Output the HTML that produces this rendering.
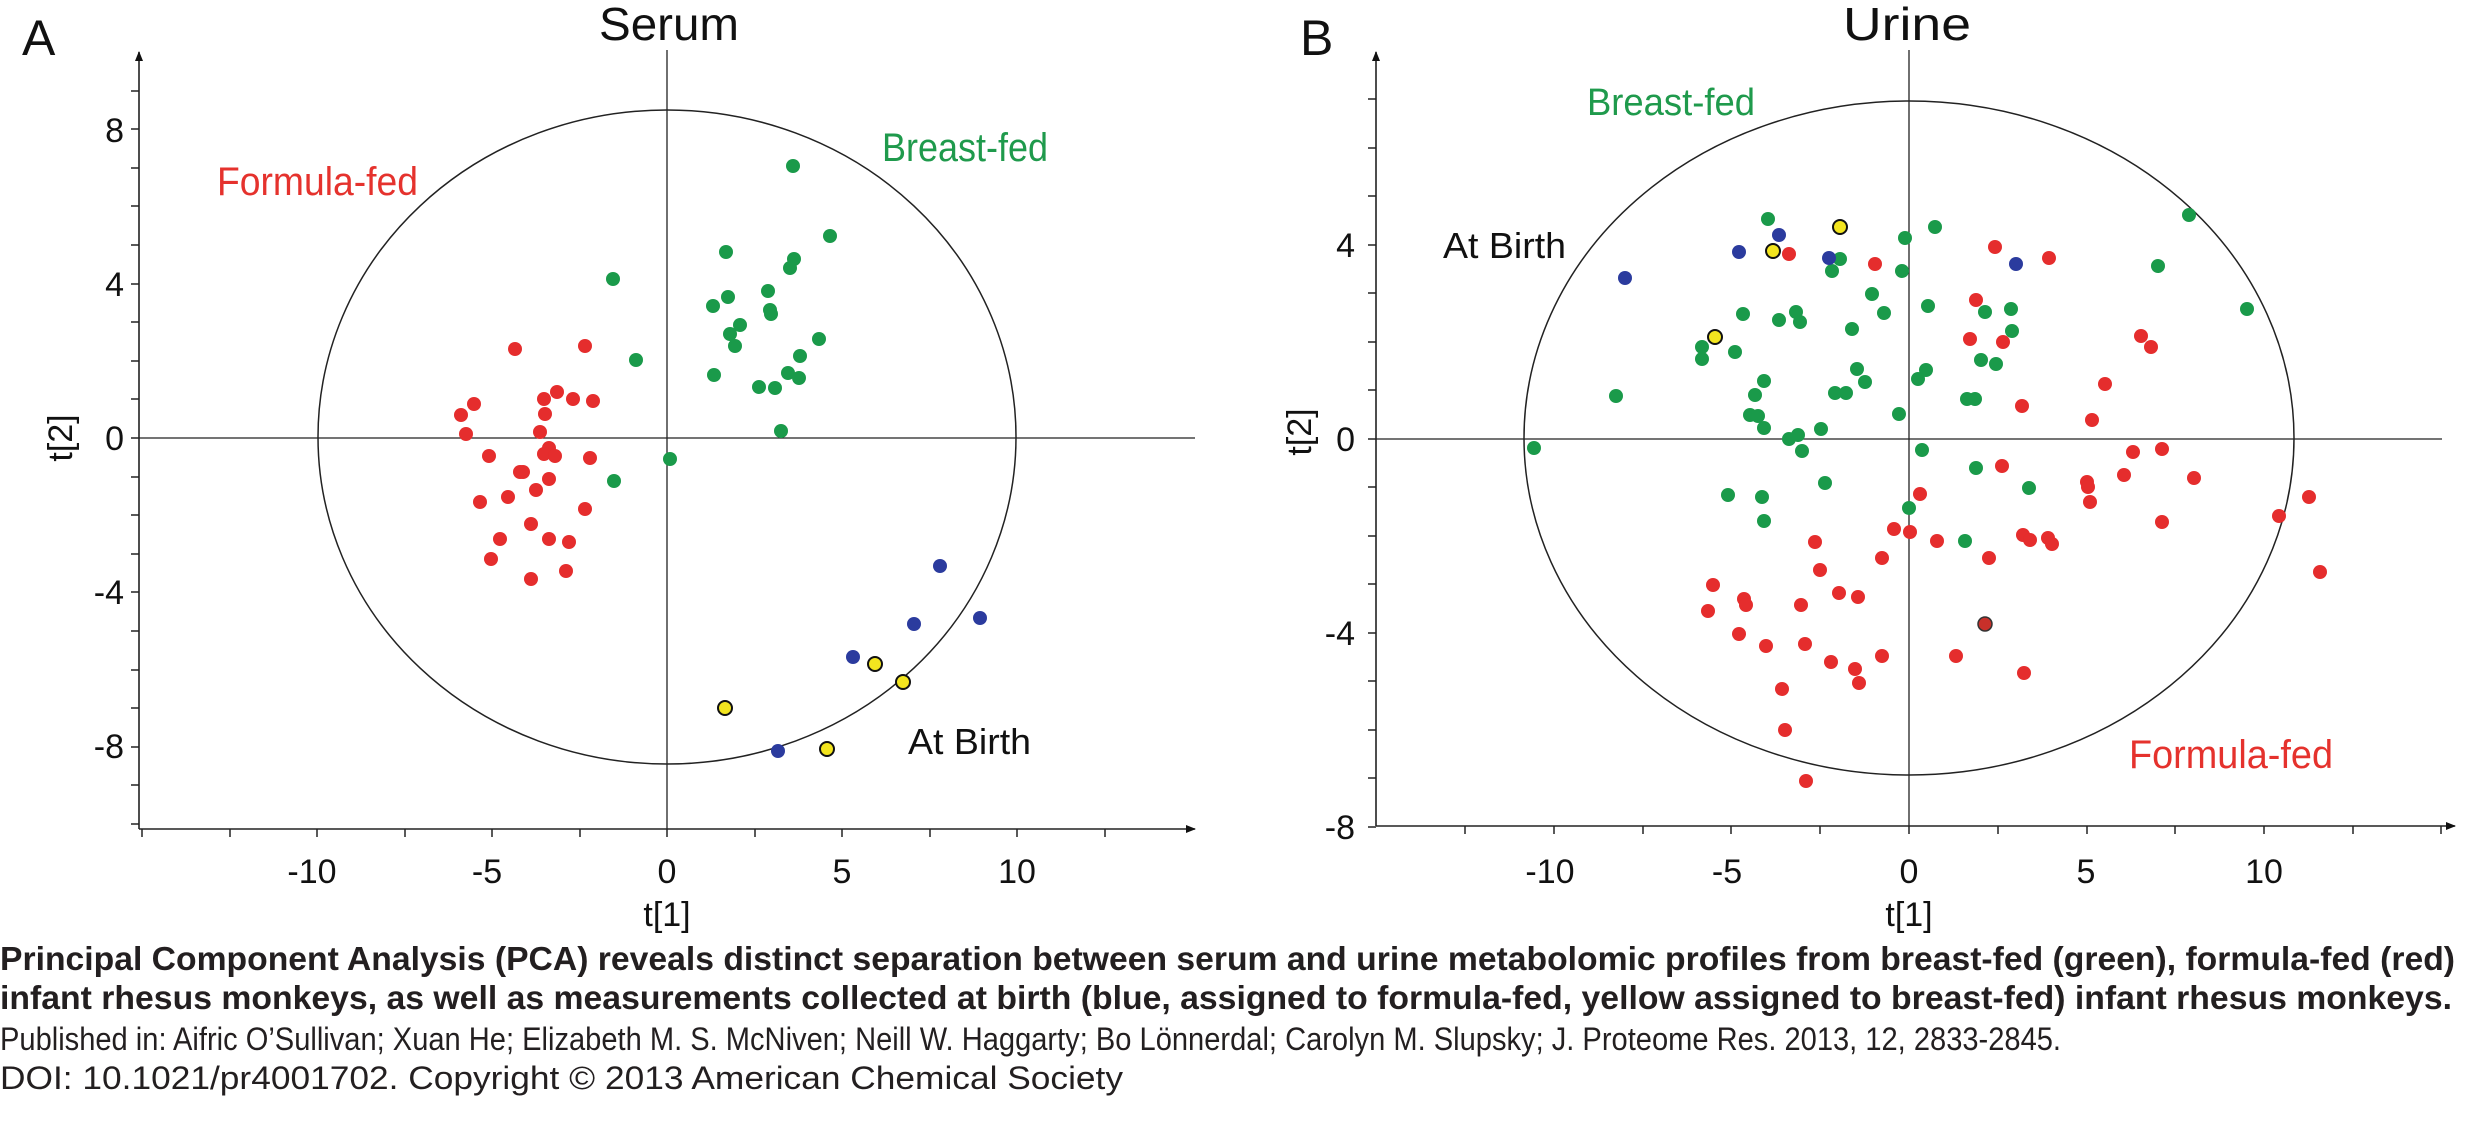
<!DOCTYPE html>
<html><head><meta charset="utf-8"><style>
html,body{margin:0;padding:0;background:#fff;}
svg{display:block;}
text{font-family:"Liberation Sans",sans-serif;}
</style></head><body>
<svg width="2492" height="1138" viewBox="0 0 2492 1138" xmlns="http://www.w3.org/2000/svg">
<defs><marker id="ar" markerWidth="10" markerHeight="10" refX="9" refY="5" orient="auto" markerUnits="userSpaceOnUse"><path d="M0,1 L10,5 L0,9 z" fill="#111"/></marker></defs>
<g stroke="#222" stroke-width="1.6" fill="none">
<line x1="139" y1="829" x2="139" y2="52" marker-end="url(#ar)"/>
<line x1="139" y1="829" x2="1195" y2="829" marker-end="url(#ar)"/>
<line x1="667" y1="50" x2="667" y2="829" stroke-width="1.3"/>
<line x1="139" y1="438" x2="1195" y2="438" stroke-width="1.3"/>
<ellipse cx="667" cy="437" rx="349" ry="327" stroke-width="1.5"/>
<line x1="1376" y1="826" x2="1376" y2="52" marker-end="url(#ar)"/>
<line x1="1376" y1="826" x2="2455" y2="826" marker-end="url(#ar)"/>
<line x1="1909" y1="50" x2="1909" y2="826" stroke-width="1.3"/>
<line x1="1376" y1="439" x2="2442" y2="439" stroke-width="1.3"/>
<ellipse cx="1909" cy="438" rx="385" ry="337" stroke-width="1.5"/>
</g>
<g stroke="#222" stroke-width="1.5">
<line x1="131" y1="824" x2="139" y2="824"/><line x1="131" y1="785" x2="139" y2="785"/><line x1="131" y1="747" x2="139" y2="747"/><line x1="131" y1="708" x2="139" y2="708"/><line x1="131" y1="670" x2="139" y2="670"/><line x1="131" y1="631" x2="139" y2="631"/><line x1="131" y1="592" x2="139" y2="592"/><line x1="131" y1="554" x2="139" y2="554"/><line x1="131" y1="515" x2="139" y2="515"/><line x1="131" y1="477" x2="139" y2="477"/><line x1="131" y1="438" x2="139" y2="438"/><line x1="131" y1="399" x2="139" y2="399"/><line x1="131" y1="361" x2="139" y2="361"/><line x1="131" y1="322" x2="139" y2="322"/><line x1="131" y1="284" x2="139" y2="284"/><line x1="131" y1="245" x2="139" y2="245"/><line x1="131" y1="206" x2="139" y2="206"/><line x1="131" y1="168" x2="139" y2="168"/><line x1="131" y1="129" x2="139" y2="129"/><line x1="131" y1="91" x2="139" y2="91"/>
<line x1="1368" y1="827" x2="1376" y2="827"/><line x1="1368" y1="778" x2="1376" y2="778"/><line x1="1368" y1="730" x2="1376" y2="730"/><line x1="1368" y1="681" x2="1376" y2="681"/><line x1="1368" y1="633" x2="1376" y2="633"/><line x1="1368" y1="584" x2="1376" y2="584"/><line x1="1368" y1="536" x2="1376" y2="536"/><line x1="1368" y1="487" x2="1376" y2="487"/><line x1="1368" y1="439" x2="1376" y2="439"/><line x1="1368" y1="390" x2="1376" y2="390"/><line x1="1368" y1="342" x2="1376" y2="342"/><line x1="1368" y1="293" x2="1376" y2="293"/><line x1="1368" y1="245" x2="1376" y2="245"/><line x1="1368" y1="196" x2="1376" y2="196"/><line x1="1368" y1="148" x2="1376" y2="148"/><line x1="1368" y1="99" x2="1376" y2="99"/>
<line x1="142" y1="829" x2="142" y2="837"/><line x1="230" y1="829" x2="230" y2="837"/><line x1="317" y1="829" x2="317" y2="837"/><line x1="405" y1="829" x2="405" y2="837"/><line x1="492" y1="829" x2="492" y2="837"/><line x1="580" y1="829" x2="580" y2="837"/><line x1="667" y1="829" x2="667" y2="837"/><line x1="755" y1="829" x2="755" y2="837"/><line x1="842" y1="829" x2="842" y2="837"/><line x1="930" y1="829" x2="930" y2="837"/><line x1="1017" y1="829" x2="1017" y2="837"/><line x1="1105" y1="829" x2="1105" y2="837"/>
<line x1="1465" y1="826" x2="1465" y2="834"/><line x1="1554" y1="826" x2="1554" y2="834"/><line x1="1643" y1="826" x2="1643" y2="834"/><line x1="1731" y1="826" x2="1731" y2="834"/><line x1="1820" y1="826" x2="1820" y2="834"/><line x1="1909" y1="826" x2="1909" y2="834"/><line x1="1998" y1="826" x2="1998" y2="834"/><line x1="2087" y1="826" x2="2087" y2="834"/><line x1="2175" y1="826" x2="2175" y2="834"/><line x1="2264" y1="826" x2="2264" y2="834"/><line x1="2353" y1="826" x2="2353" y2="834"/><line x1="2441" y1="826" x2="2441" y2="834"/>
</g>
<g font-size="34" fill="#111" text-anchor="end">
<text x="124" y="142">8</text><text x="124" y="296">4</text><text x="124" y="450">0</text><text x="124" y="604">-4</text><text x="124" y="758">-8</text>
<text x="1355" y="257">4</text><text x="1355" y="451">0</text><text x="1355" y="645">-4</text><text x="1355" y="839">-8</text>
</g>
<g font-size="34" fill="#111" text-anchor="middle">
<text x="312" y="883">-10</text><text x="487" y="883">-5</text><text x="667" y="883">0</text><text x="842" y="883">5</text><text x="1017" y="883">10</text>
<text x="1550" y="883">-10</text><text x="1727" y="883">-5</text><text x="1909" y="883">0</text><text x="2086" y="883">5</text><text x="2264" y="883">10</text>
<text x="667" y="926">t[1]</text><text x="1909" y="926">t[1]</text>
<text transform="translate(72,438) rotate(-90)">t[2]</text>
<text transform="translate(1311,432) rotate(-90)">t[2]</text>
</g>
<text x="22" y="55" font-size="50" fill="#111">A</text>
<text x="1300" y="55" font-size="50" fill="#111">B</text>
<text x="599" y="40" font-size="46" fill="#111" textLength="140" lengthAdjust="spacingAndGlyphs">Serum</text>
<text x="1843" y="40" font-size="46" fill="#111" textLength="128" lengthAdjust="spacingAndGlyphs">Urine</text>
<text x="217" y="195" font-size="40" fill="#e5322d" textLength="201" lengthAdjust="spacingAndGlyphs">Formula-fed</text>
<text x="882" y="161" font-size="40" fill="#1f9a4c" textLength="166" lengthAdjust="spacingAndGlyphs">Breast-fed</text>
<text x="908" y="754" font-size="36" fill="#111" textLength="123" lengthAdjust="spacingAndGlyphs">At Birth</text>
<text x="1587" y="115" font-size="38" fill="#1f9a4c" textLength="168" lengthAdjust="spacingAndGlyphs">Breast-fed</text>
<text x="1443" y="258" font-size="36" fill="#111" textLength="123" lengthAdjust="spacingAndGlyphs">At Birth</text>
<text x="2129" y="768" font-size="40" fill="#e5322d" textLength="204" lengthAdjust="spacingAndGlyphs">Formula-fed</text>
<g fill="#e52d2d">
<circle cx="515" cy="349" r="7"/><circle cx="585" cy="346" r="7"/><circle cx="474" cy="404" r="7"/><circle cx="461" cy="415" r="7"/><circle cx="466" cy="434" r="7"/><circle cx="544" cy="399" r="7"/><circle cx="557" cy="392" r="7"/><circle cx="573" cy="399" r="7"/><circle cx="593" cy="401" r="7"/><circle cx="545" cy="414" r="7"/><circle cx="540" cy="432" r="7"/><circle cx="549" cy="448" r="7"/><circle cx="544" cy="454" r="7"/><circle cx="555" cy="456" r="7"/><circle cx="489" cy="456" r="7"/><circle cx="590" cy="458" r="7"/><circle cx="520" cy="472" r="7"/><circle cx="523" cy="472" r="7"/><circle cx="549" cy="479" r="7"/><circle cx="536" cy="490" r="7"/><circle cx="508" cy="497" r="7"/><circle cx="480" cy="502" r="7"/><circle cx="585" cy="509" r="7"/><circle cx="531" cy="524" r="7"/><circle cx="500" cy="539" r="7"/><circle cx="549" cy="539" r="7"/><circle cx="569" cy="542" r="7"/><circle cx="491" cy="559" r="7"/><circle cx="566" cy="571" r="7"/><circle cx="531" cy="579" r="7"/>
<circle cx="1789" cy="254" r="7"/><circle cx="1875" cy="264" r="7"/><circle cx="1995" cy="247" r="7"/><circle cx="2049" cy="258" r="7"/><circle cx="1976" cy="300" r="7"/><circle cx="1970" cy="339" r="7"/><circle cx="2003" cy="342" r="7"/><circle cx="2022" cy="406" r="7"/><circle cx="2002" cy="466" r="7"/><circle cx="1920" cy="494" r="7"/><circle cx="1894" cy="529" r="7"/><circle cx="1910" cy="532" r="7"/><circle cx="1937" cy="541" r="7"/><circle cx="2023" cy="535" r="7"/><circle cx="2030" cy="540" r="7"/><circle cx="2048" cy="538" r="7"/><circle cx="2052" cy="544" r="7"/><circle cx="1815" cy="542" r="7"/><circle cx="1882" cy="558" r="7"/><circle cx="1989" cy="558" r="7"/><circle cx="1820" cy="570" r="7"/><circle cx="1713" cy="585" r="7"/><circle cx="1744" cy="599" r="7"/><circle cx="1746" cy="605" r="7"/><circle cx="1708" cy="611" r="7"/><circle cx="1801" cy="605" r="7"/><circle cx="1839" cy="593" r="7"/><circle cx="1858" cy="597" r="7"/><circle cx="1739" cy="634" r="7"/><circle cx="1766" cy="646" r="7"/><circle cx="1805" cy="644" r="7"/><circle cx="1831" cy="662" r="7"/><circle cx="1855" cy="669" r="7"/><circle cx="1859" cy="683" r="7"/><circle cx="1882" cy="656" r="7"/><circle cx="1956" cy="656" r="7"/><circle cx="2024" cy="673" r="7"/><circle cx="1782" cy="689" r="7"/><circle cx="1785" cy="730" r="7"/><circle cx="1806" cy="781" r="7"/>
<circle cx="2141" cy="336" r="7"/><circle cx="2151" cy="347" r="7"/><circle cx="2105" cy="384" r="7"/><circle cx="2092" cy="420" r="7"/><circle cx="2133" cy="452" r="7"/><circle cx="2162" cy="449" r="7"/><circle cx="2124" cy="475" r="7"/><circle cx="2087" cy="482" r="7"/><circle cx="2088" cy="487" r="7"/><circle cx="2090" cy="502" r="7"/><circle cx="2194" cy="478" r="7"/><circle cx="2309" cy="497" r="7"/><circle cx="2279" cy="516" r="7"/><circle cx="2162" cy="522" r="7"/><circle cx="2320" cy="572" r="7"/>
</g>
<circle cx="1985" cy="624" r="7" fill="#c8302a" stroke="#333" stroke-width="1.5"/>
<g fill="#1a9a4a">
<circle cx="793" cy="166" r="7"/><circle cx="830" cy="236" r="7"/><circle cx="726" cy="252" r="7"/><circle cx="794" cy="259" r="7"/><circle cx="790" cy="268" r="7"/><circle cx="613" cy="279" r="7"/><circle cx="768" cy="291" r="7"/><circle cx="728" cy="297" r="7"/><circle cx="713" cy="306" r="7"/><circle cx="770" cy="310" r="7"/><circle cx="771" cy="314" r="7"/><circle cx="740" cy="325" r="7"/><circle cx="730" cy="334" r="7"/><circle cx="735" cy="346" r="7"/><circle cx="819" cy="339" r="7"/><circle cx="636" cy="360" r="7"/><circle cx="800" cy="356" r="7"/><circle cx="714" cy="375" r="7"/><circle cx="788" cy="373" r="7"/><circle cx="799" cy="378" r="7"/><circle cx="759" cy="387" r="7"/><circle cx="775" cy="388" r="7"/><circle cx="781" cy="431" r="7"/><circle cx="670" cy="459" r="7"/><circle cx="614" cy="481" r="7"/>
<circle cx="1768" cy="219" r="7"/><circle cx="1935" cy="227" r="7"/><circle cx="1905" cy="238" r="7"/><circle cx="1840" cy="259" r="7"/><circle cx="1832" cy="271" r="7"/><circle cx="1902" cy="271" r="7"/><circle cx="1872" cy="294" r="7"/><circle cx="1928" cy="306" r="7"/><circle cx="1884" cy="313" r="7"/><circle cx="1985" cy="312" r="7"/><circle cx="2011" cy="309" r="7"/><circle cx="1743" cy="314" r="7"/><circle cx="1779" cy="320" r="7"/><circle cx="1796" cy="312" r="7"/><circle cx="1800" cy="322" r="7"/><circle cx="1852" cy="329" r="7"/><circle cx="2012" cy="331" r="7"/><circle cx="1702" cy="347" r="7"/><circle cx="1735" cy="352" r="7"/><circle cx="1702" cy="359" r="7"/><circle cx="1981" cy="360" r="7"/><circle cx="1996" cy="364" r="7"/><circle cx="1857" cy="369" r="7"/><circle cx="1926" cy="370" r="7"/><circle cx="1918" cy="379" r="7"/><circle cx="1764" cy="381" r="7"/><circle cx="1865" cy="382" r="7"/><circle cx="1835" cy="393" r="7"/><circle cx="1846" cy="393" r="7"/><circle cx="1755" cy="395" r="7"/><circle cx="1616" cy="396" r="7"/><circle cx="1967" cy="399" r="7"/><circle cx="1975" cy="399" r="7"/><circle cx="1899" cy="414" r="7"/><circle cx="1750" cy="415" r="7"/><circle cx="1758" cy="416" r="7"/><circle cx="1764" cy="428" r="7"/><circle cx="1821" cy="429" r="7"/><circle cx="1798" cy="435" r="7"/><circle cx="1789" cy="439" r="7"/><circle cx="1534" cy="448" r="7"/><circle cx="1802" cy="451" r="7"/><circle cx="1922" cy="450" r="7"/><circle cx="1976" cy="468" r="7"/><circle cx="1825" cy="483" r="7"/><circle cx="2029" cy="488" r="7"/><circle cx="1728" cy="495" r="7"/><circle cx="1762" cy="497" r="7"/><circle cx="1909" cy="508" r="7"/><circle cx="1764" cy="521" r="7"/><circle cx="1965" cy="541" r="7"/>
<circle cx="2189" cy="215" r="7"/><circle cx="2158" cy="266" r="7"/><circle cx="2247" cy="309" r="7"/>
</g>
<g fill="#2b3b9e">
<circle cx="940" cy="566" r="7"/><circle cx="980" cy="618" r="7"/><circle cx="914" cy="624" r="7"/><circle cx="853" cy="657" r="7"/><circle cx="778" cy="751" r="7"/><circle cx="1779" cy="235" r="7"/><circle cx="1739" cy="252" r="7"/><circle cx="1625" cy="278" r="7"/><circle cx="1829" cy="258" r="7"/><circle cx="2016" cy="264" r="7"/>
</g>
<g fill="#f3e51f" stroke="#111" stroke-width="2">
<circle cx="875" cy="664" r="7"/><circle cx="903" cy="682" r="7"/><circle cx="725" cy="708" r="7"/><circle cx="827" cy="749" r="7"/><circle cx="1840" cy="227" r="7"/><circle cx="1773" cy="251" r="7"/><circle cx="1715" cy="337" r="7"/>
</g>
<g fill="#231f20">
<text x="0" y="970" font-size="33" font-weight="bold" textLength="2455" lengthAdjust="spacingAndGlyphs">Principal Component Analysis (PCA) reveals distinct separation between serum and urine metabolomic profiles from breast-fed (green), formula-fed (red)</text>
<text x="0" y="1009" font-size="33" font-weight="bold" textLength="2452" lengthAdjust="spacingAndGlyphs">infant rhesus monkeys, as well as measurements collected at birth (blue, assigned to formula-fed, yellow assigned to breast-fed) infant rhesus monkeys.</text>
<text x="0" y="1050" font-size="32" textLength="2061" lengthAdjust="spacingAndGlyphs">Published in:  Aifric O’Sullivan; Xuan He; Elizabeth M. S. McNiven; Neill W. Haggarty; Bo Lönnerdal; Carolyn M. Slupsky; J. Proteome Res.  2013, 12, 2833-2845.</text>
<text x="0" y="1089" font-size="32" textLength="1123" lengthAdjust="spacingAndGlyphs">DOI: 10.1021/pr4001702. Copyright © 2013 American Chemical Society</text>
</g>
</svg>
</body></html>
